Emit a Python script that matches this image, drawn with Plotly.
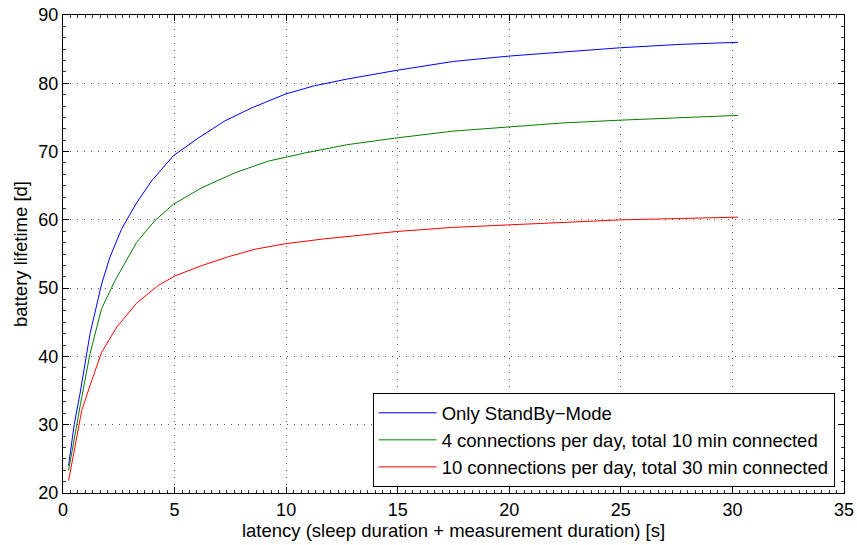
import plotly.graph_objects as go

# --- data ---
standby_x = [0.25, 0.5, 0.76, 1.21, 1.73, 2.1, 2.63, 3.3, 3.97, 4.95, 6.07, 7.26, 8.46,
             9.95, 11.22, 12.7, 14.96, 17.5, 20.04, 22.43, 24.97, 27.66, 30.25]
standby_y = [24.0, 30.0, 34.5, 43.3, 50.6, 54.5, 58.7, 62.5, 65.7, 69.4, 72.0, 74.5, 76.4,
             78.4, 79.6, 80.6, 81.9, 83.2, 84.0, 84.6, 85.2, 85.7, 86.0]

conn4_x = [0.25, 0.61, 0.76, 1.21, 1.73, 2.33, 3.3, 4.12, 4.95, 6.22, 7.71, 9.2, 10.85,
           12.72, 14.96, 17.5, 20.04, 22.43, 24.97, 27.66, 30.25]
conn4_y = [23.3, 30.0, 32.6, 40.4, 47.0, 51.1, 56.7, 59.9, 62.3, 64.7, 66.9, 68.6, 69.8,
           71.0, 72.0, 73.0, 73.6, 74.2, 74.6, 75.0, 75.3]

conn10_x = [0.25, 0.73, 0.84, 1.29, 1.73, 2.41, 3.3, 4.27, 5.02, 6.22, 7.41, 8.61, 9.95,
            11.67, 14.96, 17.5, 20.04, 22.43, 24.97, 27.66, 30.25]
conn10_y = [21.8, 30.0, 32.1, 36.5, 40.6, 44.3, 47.8, 50.4, 51.8, 53.3, 54.6, 55.7, 56.5,
            57.2, 58.3, 58.9, 59.3, 59.6, 60.0, 60.2, 60.4]

series_names = ["Only StandBy\u2212Mode",
                "4 connections per day, total 10 min connected",
                "10 connections per day, total 30 min connected"]
series_colors = ["#0000ff", "#008000", "#ff0000"]

x_ticks = [0, 5, 10, 15, 20, 25, 30, 35]
y_ticks = [20, 30, 40, 50, 60, 70, 80, 90]

FONT = "Arial, 'Liberation Sans', Helvetica, sans-serif"
TICK_SIZE = 18
TEXT_SIZE = 18.5

fig = go.Figure()
for xs, ys, name, col in zip([standby_x, conn4_x, conn10_x],
                             [standby_y, conn4_y, conn10_y],
                             series_names, series_colors):
    fig.add_trace(go.Scatter(x=xs, y=ys, mode="lines", name=name,
                             line=dict(color=col, width=1)))

axis_common = dict(
    showline=True, linecolor="black", linewidth=1, mirror="allticks",
    ticks="inside", ticklen=6, tickcolor="black", tickwidth=1,
    showgrid=True, gridcolor="#555555", gridwidth=1, griddash="1px,6px",
    zeroline=False, automargin=False,
    tickfont=dict(family=FONT, size=TICK_SIZE, color="black"),
)

fig.update_xaxes(range=[0, 35], tickvals=x_ticks, **axis_common,
                 minor=dict(ticks="inside", ticklen=3, tickcolor="#333333",
                            dtick=5 / 15, showgrid=False),
                 title=dict(text="latency (sleep duration + measurement duration) [s]",
                            font=dict(family=FONT, size=TEXT_SIZE, color="black"), standoff=4))
fig.update_yaxes(range=[20, 90], tickvals=y_ticks, **axis_common,
                 minor=dict(ticks="inside", ticklen=3, tickcolor="#333333",
                            dtick=10 / 6, showgrid=False),
                 title=dict(text="battery lifetime [d]",
                            font=dict(family=FONT, size=TEXT_SIZE, color="black"), standoff=5))

fig.update_layout(
    width=857, height=545,
    margin=dict(l=63, r=13, t=15, b=52),
    plot_bgcolor="white", paper_bgcolor="white",
    font=dict(family=FONT, size=TEXT_SIZE, color="black"),
    showlegend=True,
    legend=dict(x=0.988, y=0.012, xanchor="right", yanchor="bottom",
                bgcolor="white", bordercolor="black", borderwidth=1,
                font=dict(family=FONT, size=TEXT_SIZE, color="black"),
                itemwidth=58, tracegroupgap=0),
)

fig.write_html("out.html",
               config={"displayModeBar": False},
               post_script="document.body.style.margin='0';document.body.style.padding='0';")
